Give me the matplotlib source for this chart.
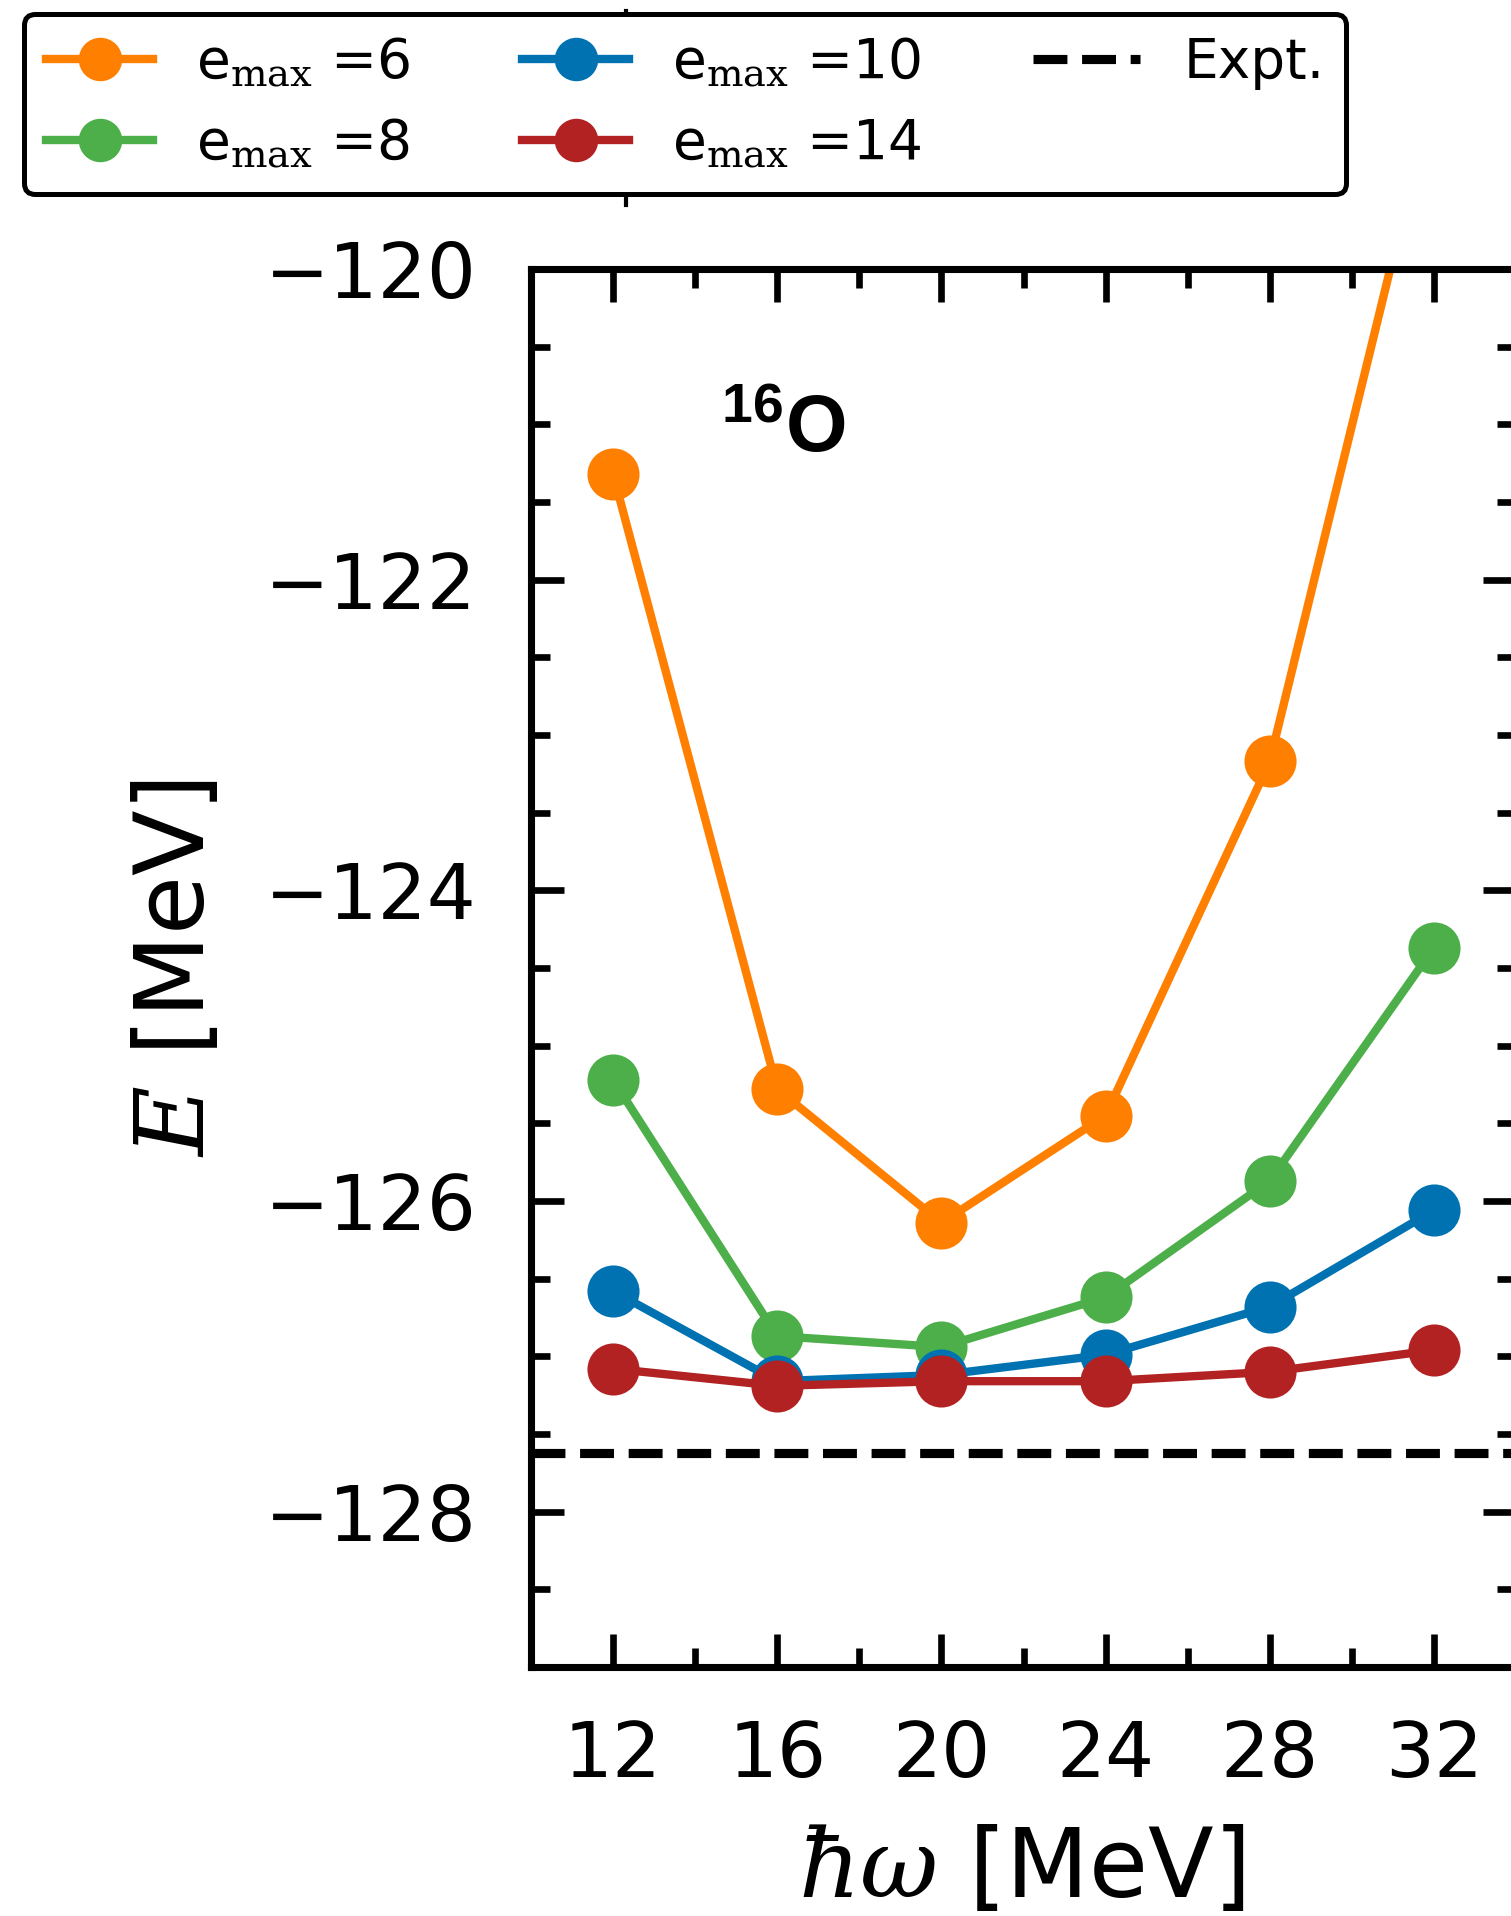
import matplotlib
matplotlib.use("Agg")
import matplotlib.pyplot as plt
from matplotlib.ticker import MultipleLocator
from matplotlib.lines import Line2D

plt.rcParams['font.family'] = ['DejaVu Sans']
plt.rcParams['mathtext.fontset'] = 'custom'
plt.rcParams['mathtext.rm'] = 'DejaVu Serif'
plt.rcParams['mathtext.it'] = 'DejaVu Serif:italic'
plt.rcParams['mathtext.bf'] = 'Liberation Sans:bold'

# hbar omega values and g.s. energies for each emax
hw = [12, 16, 20, 24, 28, 32]
e6 = [-121.32, -125.28, -126.14, -125.45, -123.17, -118.85]
e8 = [-125.22, -126.87, -126.94, -126.62, -125.87, -124.37]
e10 = [-126.58, -127.16, -127.12, -126.99, -126.68, -126.06]
e14 = [-127.08, -127.19, -127.16, -127.16, -127.10, -126.96]
expt = -127.62

labels = [r'e$_{\rm max}$ =6', r'e$_{\rm max}$ =8', r'e$_{\rm max}$ =10', r'e$_{\rm max}$ =14']
colors = ['#FF7F00', '#4DAF4A', '#0072B2', '#B22222']

W, H = 1511, 1916
fig = plt.figure(figsize=(W/300, H/300), dpi=300)
ax = fig.add_axes([531/W, 249/H, 985/W, 1398/H])

for ys, lab, c in zip([e6, e8, e10, e14], labels, colors):
    ax.plot(hw, ys, '-o', color=c, lw=2, ms=11.5, label=lab)
ax.axhline(expt, color='k', ls='--', lw=2.2, label='Expt.')

ax.set_xlim(10, 34)
ax.set_ylim(-129, -120)
ax.xaxis.set_major_locator(MultipleLocator(4))
ax.xaxis.set_minor_locator(MultipleLocator(2))
ax.yaxis.set_major_locator(MultipleLocator(2))
ax.yaxis.set_minor_locator(MultipleLocator(0.5))
ax.tick_params(which='both', direction='in', top=True, right=True, width=1.6)
ax.tick_params(which='major', length=8, labelsize=18.5)
ax.tick_params(which='minor', length=4.6)
ax.tick_params(axis='x', pad=12.4)
ax.tick_params(axis='y', pad=13)
for s in ax.spines.values():
    s.set_linewidth(1.7)

ax.set_xlabel(r'$\hbar\omega$ [MeV]', fontsize=23)
ax.set_ylabel(r'$E$ [MeV]', fontsize=23)
ax.xaxis.set_label_coords(0.498, -0.1125)
ax.yaxis.set_label_coords(-0.312, 0.5)

ax.text(14.62, -121.18, r'$\mathbf{^{16}}$O', fontsize=19, fontweight='bold',
        family='Liberation Sans', math_fontfamily='custom', ha='left', va='baseline')

# stray line from the neighbouring panel, behind the legend
fig.add_artist(Line2D([626/W, 626/W], [1 - 205/H, 1 - 11/H], color='k', lw=1, zorder=0))

leg = fig.legend(*ax.get_legend_handles_labels(), loc='upper left',
                 bbox_to_anchor=(24/W, 1 - 14/H), ncol=3, fontsize=13.2,
                 handlelength=1.95, handletextpad=0.78, columnspacing=2.03,
                 markerscale=0.82, labelspacing=0.5, borderaxespad=0,
                 frameon=True, fancybox=True, framealpha=1, edgecolor='k')
leg.get_frame().set_linewidth(1.2)
leg.set_zorder(5)

fig.savefig('out.png', dpi=300)
